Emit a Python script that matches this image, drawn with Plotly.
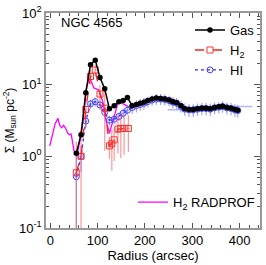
import plotly.graph_objects as go

# ---- data ----
gas_r = [55, 65, 75, 85, 95, 105, 115, 125, 135, 145, 154, 163,
         173, 182, 190, 198, 206, 215, 224, 233, 242, 251, 259, 267, 276, 284,
         293, 302, 311, 320, 329, 338, 347, 356, 364, 373, 382, 390, 396]
gas_v = [1.1, 2.0, 7.7, 19, 22, 12.6, 8.8, 4.6, 5.1, 5.8, 6.0, 6.6,
         5.1, 5.3, 5.5, 5.7, 6.0, 6.3, 6.5, 6.4, 6.3, 6.1, 5.8, 5.6, 5.1, 4.6,
         4.5, 4.5, 4.6, 4.7, 4.7, 4.6, 4.8, 4.9, 5.0, 4.8, 4.7, 4.5, 4.4]

hi_v = [0.52, 1.0, 3.1, 5.4, 5.8, 5.2, 4.1, 3.2, 3.3, 3.6, 4.0, 4.4,
        4.8, 5.1, 5.3, 5.5, 5.8, 6.1, 6.3, 6.3, 6.2, 6.0, 5.7, 5.5, 5.0, 4.55,
        4.45, 4.45, 4.55, 4.65, 4.65, 4.55, 4.75, 4.85, 4.95, 4.75, 4.65, 4.45, 4.35]
hi_err = [0.6, 0.4, 0.6, 0.8, 0.8, 0.8, 0.6, 0.5, 0.5, 0.5, 0.6, 0.6,
          0.9, 1.0, 1.0, 1.0, 1.0, 1.0, 1.1, 1.1, 1.1, 1.0, 1.0, 1.0, 0.9, 0.9,
          0.9, 0.9, 0.9, 0.9, 0.9, 0.9, 0.9, 0.9, 0.9, 0.9, 0.9, 0.9, 0.9]
hi_errx = [4, 4, 4, 4, 4, 4, 4, 4, 4, 4, 4, 4,
           4, 4, 4, 4, 4, 4, 4, 4, 4, 20, 4, 4, 4, 4,
           45, 4, 4, 4, 4, 4, 4, 4, 63, 4, 4, 4, 4]

h2_r = [55, 65, 75, 85, 95, 105, 115, 125, 130, 135, 143, 149, 156, 165]
h2_v = [0.59, 1.0, 4.5, 13, 16, 7.4, 4.7, 1.4, 1.5, 1.7, 2.4, 2.45, 2.45, 2.45]
h2_err = [1.0, 1.5, 2.0, 3.0, 3.0, 2.5, 3.5, 0.47, 0.87, 0.84, 1.3, 1.5, 1.4, 1.3]

rp_r = [-1, 5, 10, 16, 20, 24, 28, 32, 37, 41, 44, 47, 50, 54, 58, 62, 67, 72,
        77, 82, 87, 92, 97, 102, 107, 112, 117, 121, 125, 129, 134, 139, 143,
        146, 151, 156, 161, 166]
rp_v = [1.4, 2.0, 2.8, 3.4, 2.7, 2.5, 2.7, 2.5, 2.1, 2.0, 2.05, 1.6, 1.2, 1.1,
        1.15, 1.6, 2.5, 5.0, 9.5, 12.3, 11.0, 9.0, 8.8, 8.5, 7.0, 5.5, 3.3,
        2.5, 2.1, 2.6, 3.5, 4.5, 5.6, 5.9, 5.5, 5.3, 5.1, 4.9]

y_ticks = [0.1, 1, 10, 100]
y_ticktext = ["10<sup>-1</sup>", "10<sup>0</sup>", "10<sup>1</sup>", "10<sup>2</sup>"]
x_ticks = [0, 100, 200, 300, 400]

FONT = "Liberation Sans, Arial, sans-serif"

fig = go.Figure()

fig.add_trace(go.Scatter(
    x=rp_r, y=rp_v, mode="lines", name="H<sub>2</sub> RADPROF",
    line=dict(color="#ff00ff", width=1.3), legend="legend2"))

fig.add_trace(go.Scatter(
    x=gas_r, y=hi_v, mode="lines+markers", name="HI",
    line=dict(color="#3030ff", width=1.3, dash="dot"),
    marker=dict(symbol="circle-open", size=6, color="#4040ff", line=dict(width=1)),
    error_y=dict(type="data", array=hi_err, color="rgba(90,90,255,0.55)",
                 thickness=1.2, width=0),
    error_x=dict(type="data", array=hi_errx, color="rgba(90,90,255,0.45)",
                 thickness=1.5, width=0)))

fig.add_trace(go.Scatter(
    x=h2_r, y=h2_v, mode="lines+markers", name="H<sub>2</sub>",
    line=dict(color="#ff2020", width=1.3, dash="dash"),
    marker=dict(symbol="square-open", size=6, color="#ff3030", line=dict(width=1)),
    error_y=dict(type="data", array=h2_err, color="rgba(255,80,80,0.6)",
                 thickness=1.2, width=0),
    error_x=dict(type="constant", value=3, color="rgba(255,80,80,0.6)",
                 thickness=1, width=0)))

fig.add_trace(go.Scatter(
    x=gas_r, y=gas_v, mode="lines+markers", name="Gas",
    line=dict(color="black", width=1.5),
    marker=dict(symbol="circle", size=5.5, color="black")))

fig.add_annotation(text="NGC 4565", x=0.06, y=0.955, xref="paper", yref="paper",
                   xanchor="left", yanchor="middle", showarrow=False,
                   font=dict(size=13, color="black", family=FONT))

axis_common = dict(showline=True, linecolor="#999999", linewidth=1.5, mirror="allticks",
                   ticks="inside", tickcolor="#555555", showgrid=False, zeroline=False,
                   ticklabeloverflow="allow",
                   tickfont=dict(size=13, color="black", family=FONT))

fig.update_xaxes(range=[-9, 443], tickvals=x_ticks, ticklen=5,
                 minor=dict(ticks="inside", dtick=20, ticklen=3, tickcolor="#555555"),
                 title=dict(text="Radius (arcsec)", font=dict(size=13, family=FONT, color="black"),
                            standoff=4),
                 **axis_common)
fig.update_yaxes(type="log", range=[-1.0005, 2.0005], tickvals=y_ticks, ticktext=y_ticktext,
                 ticklen=6,
                 minor=dict(ticks="inside", ticklen=3, tickcolor="#555555",
                            tickvals=[m * 10 ** e for e in (-1, 0, 1) for m in range(2, 10)]),
                 title=dict(text="Σ (M<sub>sun</sub> pc<sup>-2</sup>)",
                            font=dict(size=12, family=FONT, color="black"), standoff=2),
                 **axis_common)

fig.update_layout(
    width=266, height=265,
    margin=dict(l=46, r=4, t=8, b=36),
    paper_bgcolor="white", plot_bgcolor="white",
    font=dict(family=FONT, color="black"),
    legend=dict(x=1.0, y=0.99, xanchor="right", yanchor="top",
                bgcolor="rgba(0,0,0,0)", font=dict(size=13, family=FONT),
                itemwidth=30, traceorder="reversed", tracegroupgap=0),
    legend2=dict(x=1.0, y=0.12, xanchor="right", yanchor="middle",
                 bgcolor="rgba(0,0,0,0)", font=dict(size=13, family=FONT),
                 itemwidth=30),
)

fig.write_html("out.html", config={"displayModeBar": False},
               post_script="document.body.style.margin='0';")
